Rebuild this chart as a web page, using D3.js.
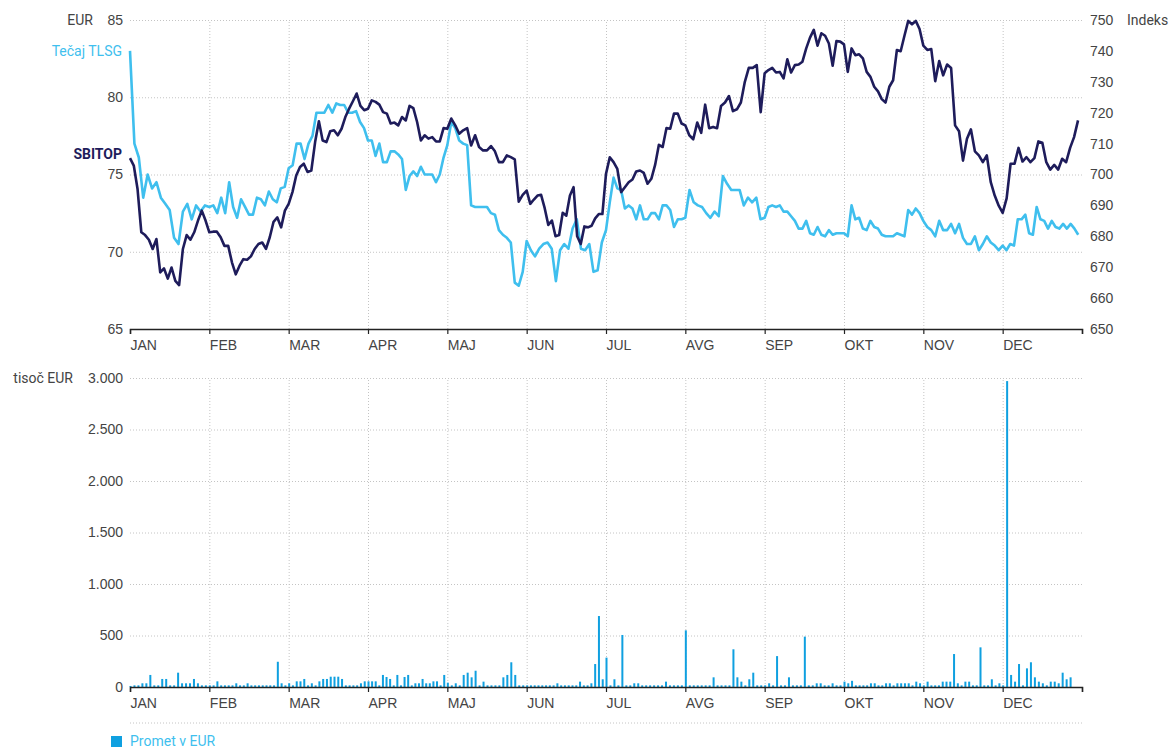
<!DOCTYPE html>
<html>
<head>
<meta charset="utf-8">
<script src="https://cdn.jsdelivr.net/npm/d3@7"></script>
<style>
  body { margin: 0; background: #fff; }
  svg { font-family: Roboto, "DejaVu Sans", sans-serif; }
  text { fill: #444; font-size: 14px; }
  .grid line { stroke: #c4c4c4; stroke-dasharray: 1,2; }
  .grid .domain { display: none; }
</style>
</head>
<body>
<div id="chart"></div>
<script>
// Labels and ticks
const months = ["JAN", "FEB", "MAR", "APR", "MAJ", "JUN", "JUL", "AVG", "SEP", "OKT", "NOV", "DEC"];
const eurTicks = [65, 70, 75, 80, 85];
const indeksTicks = [650, 660, 670, 680, 690, 700, 710, 720, 730, 740, 750];
const prometTicks = [0, 500, 1000, 1500, 2000, 2500, 3000];

// Tečaj TLSG (EUR), one sub-array per month
const tlsg = [
  [83.0, 77.0, 76.1, 73.5, 75.0, 74.1, 74.5, 73.5, 73.1, 72.7, 70.9, 70.5, 72.6, 73.1, 72.1, 73.0, 72.6, 73.0],
  [72.9, 73.0, 72.5, 73.5, 72.5, 74.5, 72.9, 72.2, 73.4, 72.9, 72.4, 72.4, 73.5, 73.4, 73.0, 73.9, 73.4, 73.2, 74.1, 74.2],
  [75.4, 75.6, 77.0, 77.0, 76.0, 77.0, 77.5, 79.0, 79.0, 79.0, 79.5, 79.0, 79.6, 79.5, 79.5, 79.0, 79.0, 79.1, 78.4, 78.0],
  [77.2, 77.2, 76.2, 77.0, 75.8, 75.8, 76.5, 76.5, 76.3, 76.0, 74.0, 74.9, 75.2, 74.9, 75.5, 75.0, 75.0, 75.0, 74.5, 75.0, 76.1],
  [76.9, 78.4, 78.0, 77.2, 77.0, 76.9, 73.0, 72.9, 72.9, 72.9, 72.9, 72.5, 72.4, 71.4, 71.1, 70.9, 70.6, 68.0, 67.8, 68.7],
  [70.7, 70.1, 69.7, 70.2, 70.5, 70.6, 70.2, 68.1, 70.1, 70.5, 70.2, 71.5, 72.1, 70.2, 70.1, 70.5, 68.7, 68.8, 70.6],
  [71.4, 73.2, 74.8, 74.1, 74.0, 72.8, 73.0, 72.8, 72.1, 73.0, 72.1, 72.1, 72.5, 72.5, 72.1, 73.0, 73.0, 72.7, 71.6, 72.1, 72.1],
  [72.2, 74.0, 73.2, 73.0, 72.9, 72.5, 72.2, 72.6, 72.3, 74.9, 74.4, 74.0, 74.0, 74.0, 73.0, 73.5, 73.2, 73.5, 72.1],
  [72.2, 72.9, 73.0, 72.9, 73.0, 72.6, 72.6, 72.3, 72.0, 71.5, 71.5, 72.0, 71.2, 71.1, 71.6, 71.1, 71.0, 71.4, 71.1, 71.2, 71.2],
  [71.2, 71.0, 73.0, 72.1, 72.2, 71.5, 71.4, 72.0, 71.6, 71.5, 71.1, 71.0, 71.0, 71.0, 71.2, 71.1, 71.0, 72.7, 72.4, 72.8, 72.5],
  [72.0, 71.6, 71.4, 71.0, 72.0, 71.4, 71.4, 71.8, 71.2, 71.8, 70.9, 70.5, 70.5, 71.0, 70.1, 70.5, 71.0, 70.6, 70.4, 70.1],
  [70.4, 70.1, 70.5, 70.4, 72.1, 72.1, 72.4, 71.2, 71.1, 72.9, 72.1, 72.0, 71.5, 72.0, 71.6, 71.5, 71.8, 71.5, 71.8, 71.5, 71.1]
];

// SBITOP (indeks), one sub-array per month
const sbitop = [
  [705.3, 702.9, 695.3, 681.3, 680.4, 678.9, 675.9, 679.1, 668.3, 669.6, 666.3, 669.9, 665.6, 664.2, 675.9, 680.4, 678.9, 681.3, 685.1, 688.3, 685.1],
  [681.3, 681.5, 681.5, 679.7, 676.9, 676.9, 671.5, 667.7, 670.5, 672.6, 672.4, 673.5, 675.9, 677.5, 678.0, 675.9, 679.7, 684.7, 686.1, 682.9, 688.3],
  [690.5, 694.3, 699.7, 702.4, 703.5, 700.8, 701.3, 710.5, 717.2, 711.0, 710.5, 714.0, 714.3, 712.7, 714.8, 718.6, 721.3, 723.7, 726.2, 722.2, 720.8],
  [721.3, 724.0, 723.5, 722.6, 720.2, 719.7, 716.5, 716.8, 715.9, 718.6, 717.5, 722.2, 721.5, 717.0, 711.0, 712.7, 711.6, 712.1, 710.7, 710.7, 715.0],
  [714.8, 718.1, 715.9, 713.2, 714.3, 715.0, 709.4, 712.7, 708.9, 707.8, 707.8, 709.2, 707.5, 704.0, 704.0, 706.2, 705.6, 704.9, 691.2, 693.4],
  [694.8, 690.5, 691.9, 693.2, 693.4, 689.1, 683.7, 685.1, 680.0, 680.4, 687.6, 686.7, 693.2, 695.9, 680.0, 677.5, 683.2, 682.9, 683.4, 685.8, 687.2, 687.2],
  [700.2, 705.6, 704.0, 701.8, 694.3, 695.9, 697.5, 698.4, 701.0, 701.3, 700.5, 697.0, 698.6, 703.1, 709.6, 708.9, 715.0, 714.8, 719.7, 719.7, 716.5],
  [715.9, 712.7, 711.4, 716.8, 713.5, 722.6, 715.0, 715.4, 715.0, 722.2, 723.3, 725.4, 720.5, 721.1, 723.3, 730.0, 734.5, 734.5, 735.4, 720.2],
  [732.8, 733.8, 734.5, 733.0, 733.2, 731.1, 737.3, 733.0, 735.4, 735.6, 736.5, 740.8, 744.3, 746.8, 741.7, 745.7, 744.9, 742.4, 735.2, 743.2, 743.0],
  [742.1, 733.2, 740.8, 738.6, 738.9, 737.6, 733.2, 731.6, 728.4, 726.9, 724.4, 723.3, 728.4, 730.5, 740.3, 739.9, 744.9, 749.7, 748.6, 749.7, 747.1],
  [741.7, 740.3, 740.6, 730.2, 736.7, 732.1, 735.6, 734.5, 715.9, 714.0, 704.5, 711.6, 714.6, 707.5, 706.2, 704.0, 706.2, 697.5, 693.2, 689.9],
  [687.6, 692.3, 703.5, 703.5, 708.6, 704.2, 705.6, 704.0, 705.3, 710.7, 710.3, 704.0, 701.6, 703.1, 701.6, 705.1, 704.0, 708.6, 712.1, 717.5]
];

// Promet (tisoč EUR), one sub-array per month
const promet = [
  [10, 16, 16, 36, 36, 117, 16, 16, 78, 78, 16, 16, 139, 36, 36, 36, 78, 36, 16, 16],
  [16, 16, 55, 16, 16, 16, 16, 36, 16, 16, 36, 16, 16, 16, 16, 16, 16, 16, 245, 36, 16],
  [36, 16, 55, 55, 78, 16, 36, 16, 55, 78, 78, 100, 100, 100, 78, 16, 16, 16, 16, 36, 55],
  [55, 55, 55, 16, 117, 97, 78, 16, 117, 16, 97, 117, 16, 36, 36, 78, 36, 36, 55, 55, 16, 117],
  [42, 16, 36, 16, 117, 139, 94, 158, 16, 52, 16, 16, 16, 16, 94, 117, 240, 117, 16, 16],
  [16, 16, 16, 16, 16, 16, 16, 16, 36, 16, 16, 16, 16, 16, 52, 16, 16, 36, 223, 689, 75],
  [285, 16, 75, 16, 505, 16, 16, 36, 36, 16, 16, 16, 16, 16, 16, 52, 16, 16, 16, 16],
  [550, 16, 16, 16, 16, 16, 16, 94, 16, 16, 16, 16, 366, 94, 52, 16, 75, 139, 16, 16],
  [16, 36, 16, 300, 16, 16, 94, 16, 16, 16, 489, 16, 16, 36, 36, 16, 16, 36, 16, 16],
  [52, 36, 60, 16, 16, 16, 16, 36, 36, 16, 16, 36, 36, 16, 36, 36, 36, 36, 16, 52, 36],
  [16, 52, 16, 16, 16, 52, 52, 52, 320, 36, 16, 52, 52, 16, 16, 385, 16, 16, 75, 16, 36],
  [16, 2970, 117, 52, 223, 16, 181, 240, 94, 52, 36, 16, 52, 52, 36, 139, 75, 94, 0, 0]
];

// month m, day j of n -> position m + j/n on the month axis
const flatten = arr => arr.flatMap((vals, m) => vals.map((v, j) => ({ t: m + j / vals.length, v })));

const width = 1171, height = 749;
const left = 130, right = 1082;
const top1 = 20, bot1 = 329;
const top2 = 378, bot2 = 687;

const sl = d3.formatLocale({ decimal: ",", thousands: ".", grouping: [3], currency: ["", " €"] });

const svg = d3.select("#chart").append("svg")
  .attr("width", width).attr("height", height);

const x = d3.scaleLinear().domain([0, 12]).range([left, right]);
const yEur = d3.scaleLinear().domain([65, 85]).range([bot1, top1]);
const yIdx = d3.scaleLinear().domain([650, 750]).range([bot1, top1]);
const yProm = d3.scaleLinear().domain([0, 3000]).range([bot2, top2]);

function grid(y, ticks, top, bot) {
  svg.append("g").attr("class", "grid")
    .attr("transform", `translate(${left},0)`)
    .call(d3.axisLeft(y).tickValues(ticks.slice(1)).tickSize(-(right - left)).tickFormat(""));
  svg.append("g").attr("class", "grid")
    .attr("transform", `translate(0,${bot})`)
    .call(d3.axisBottom(x).tickValues(d3.range(1, 12)).tickSize(-(bot - top)).tickFormat(""));
}

function xAxis(y0) {
  const g = svg.append("g")
    .attr("transform", `translate(0,${y0})`)
    .call(d3.axisBottom(x).tickValues(d3.range(0, 13)).tickSize(5).tickPadding(6)
      .tickFormat(d => months[d] || ""));
  g.select(".domain").attr("stroke", "#222").attr("stroke-width", 1.5);
  g.selectAll(".tick line").attr("stroke", "#222").attr("stroke-width", 1.2);
  g.selectAll("text").attr("text-anchor", "start").attr("fill", "#444");
}

function yLabels(axis, pos) {
  const g = svg.append("g").attr("transform", `translate(${pos},0)`).call(axis);
  g.select(".domain").remove();
  g.selectAll("text").attr("fill", "#444");
}

// ---- top panel ----
grid(yEur, eurTicks, top1, bot1);
yLabels(d3.axisLeft(yEur).tickValues(eurTicks).tickSize(0).tickPadding(7), left);
yLabels(d3.axisRight(yIdx).tickValues(indeksTicks).tickSize(0).tickPadding(8), right);
xAxis(bot1);

const lineEur = d3.line().x(d => x(d.t)).y(d => yEur(d.v));
const lineIdx = d3.line().x(d => x(d.t)).y(d => yIdx(d.v));

svg.append("path").datum(flatten(tlsg))
  .attr("d", lineEur).attr("fill", "none")
  .attr("stroke", "#3fbfee").attr("stroke-width", 2.6).attr("stroke-linejoin", "round");

svg.append("path").datum(flatten(sbitop))
  .attr("d", lineIdx).attr("fill", "none")
  .attr("stroke", "#1e1c5b").attr("stroke-width", 2.6).attr("stroke-linejoin", "round");

svg.append("text").attr("x", 93).attr("y", yEur(85)).attr("dy", "0.35em")
  .attr("text-anchor", "end").text("EUR");
svg.append("text").attr("x", 1127).attr("y", yIdx(750)).attr("dy", "0.35em").text("Indeks");
svg.append("text").attr("x", 122).attr("y", 51).attr("dy", "0.35em")
  .attr("text-anchor", "end").style("fill", "#3fbfee").text("Tečaj TLSG");
svg.append("text").attr("x", 122).attr("y", 154).attr("dy", "0.35em")
  .attr("text-anchor", "end").style("fill", "#1e1c5b").attr("font-weight", "bold").text("SBITOP");

// ---- bottom panel ----
grid(yProm, prometTicks, top2, bot2);
yLabels(d3.axisLeft(yProm).tickValues(prometTicks).tickSize(0).tickPadding(7).tickFormat(sl.format(",")), left);

svg.append("g").selectAll("rect")
  .data(flatten(promet))
  .join("rect")
  .attr("x", d => x(d.t) - 0.5)
  .attr("y", d => yProm(d.v))
  .attr("width", 2)
  .attr("height", d => bot2 - yProm(d.v))
  .attr("fill", "#0fa0e0");

xAxis(bot2);

svg.append("text").attr("x", 73).attr("y", yProm(3000)).attr("dy", "0.35em")
  .attr("text-anchor", "end").text("tisoč EUR");

// legend
svg.append("line").attr("class", "grid")
  .attr("x1", left).attr("x2", right).attr("y1", 723).attr("y2", 723)
  .attr("stroke", "#c4c4c4").attr("stroke-dasharray", "1,2");
svg.append("rect").attr("x", 111).attr("y", 736).attr("width", 11).attr("height", 11).attr("fill", "#0fa0e0");
svg.append("text").attr("x", 130).attr("y", 741.5).attr("dy", "0.35em")
  .style("fill", "#3fbfee").text("Promet v EUR");
</script>
</body>
</html>
